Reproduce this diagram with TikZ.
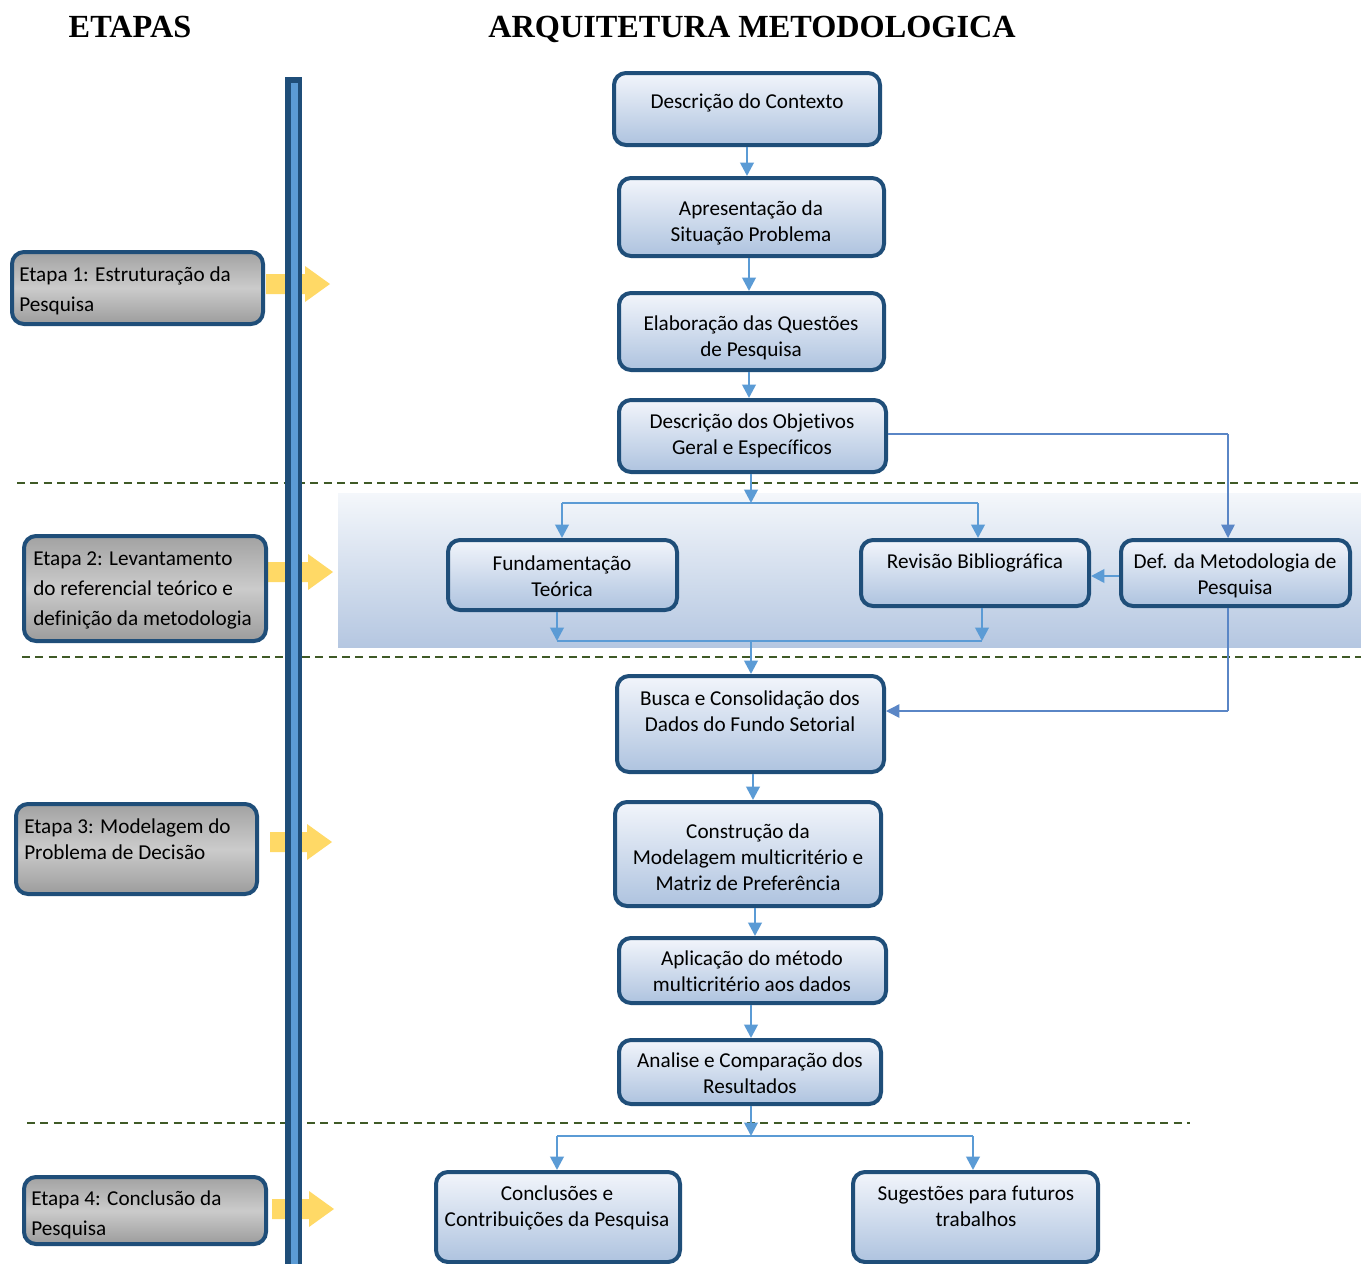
\documentclass[tikz,border=0pt]{standalone}
\usepackage{fontspec}
\setmainfont{Carlito}[Ligatures=NoCommon]
\newfontfamily\titlefont{Liberation Serif}
\usetikzlibrary{fit,arrows.meta}
\definecolor{dblue}{HTML}{1F4E79}
\definecolor{cblue}{HTML}{5B9BD5}
\definecolor{tblue}{HTML}{5A86C6}
\definecolor{barin}{HTML}{5B9BD5}
\definecolor{flowtop}{HTML}{F2F5FB}
\definecolor{flowbot}{HTML}{AEC3DF}
\definecolor{gtop}{HTML}{A2A2A2}
\definecolor{gmid}{HTML}{CBCBCB}
\definecolor{gbot}{HTML}{9C9C9C}
\definecolor{bandtop}{HTML}{F4F7FB}
\definecolor{bandbot}{HTML}{B5C7E1}
\definecolor{dgreen}{HTML}{3F5A26}
\definecolor{yarrow}{HTML}{FFD966}
\tikzset{
  flow/.style={draw=dblue, line width=3pt, rounded corners=9pt, top color=flowtop, bottom color=flowbot, inner sep=0pt},
  stage/.style={draw=dblue, line width=3pt, rounded corners=9pt, top color=gtop, bottom color=gbot, middle color=gmid, inner sep=0pt},
  ftxt/.style={font=\fontsize{15.9}{19.5}\selectfont, align=center, anchor=base, inner sep=0pt},
  stxt/.style={font=\fontsize{15.9}{22.5}\selectfont, align=left, anchor=base west, inner sep=0pt},
  conn/.style={draw=cblue, line width=2pt, -{Triangle[width=10pt,length=10pt]}},
  cline/.style={draw=cblue, line width=2pt},
  thinconn/.style={draw=tblue, line width=1.1pt, -{Triangle[width=10pt,length=10pt]}},
  thinline/.style={draw=tblue, line width=1.1pt},
  sepline/.style={draw=dgreen, line width=1.2pt, dash pattern=on 6pt off 4pt},
  ttl/.style={font=\titlefont\bfseries\fontsize{24.2}{27}\selectfont, anchor=base, inner sep=0pt}
}
\begin{document}
\begin{tikzpicture}[x=0.75pt,y=-0.75pt]
\useasboundingbox (0,0) rectangle (1361,1264);
\fill[white] (0,0) rectangle (1361,1264);

% titles
\node[ttl] (tEtapas) at (130,37) {ETAPAS};
\node[ttl] (tArq) at (752,37) {ARQUITETURA METODOLOGICA};

% band
\shade[top color=bandtop, bottom color=bandbot] (338,493) rectangle (1361,647);

% separators
\draw[sepline] (17,483) -- (1361,483);
\draw[sepline] (22,657) -- (1361,657);
\draw[sepline] (27,1123) -- (1190,1123);

% yellow stage arrows
\foreach \xa/\xb/\yc in {266/330/284, 268/333/572, 270/332/842, 272/334/1209}{
  \fill[yarrow] (\xa,\yc-10) -- (\xb-25,\yc-10) -- (\xb-25,\yc-18) -- (\xb,\yc) -- (\xb-25,\yc+18) -- (\xb-25,\yc+10) -- (\xa,\yc+10) -- cycle;
}

% vertical bar
\fill[dblue] (285,77) rectangle (302,1264);
\fill[barin] (290.5,83) rectangle (297.5,1264);

% stage boxes
\node[stage, fit={(12,252) (263,324)}] (e1) {};
\node[stxt] (e1t) at (19,311) {Etapa 1: Estruturação da\\Pesquisa};
\node[stage, fit={(24,536) (266,641)}] (e2) {};
\node[stxt] (e2t) at (33,625) {Etapa 2: Levantamento\\do referencial teórico e\\definição da metodologia};
\node[stage, fit={(16,804) (257,894)}] (e3) {};
\node[stxt, font=\fontsize{15.9}{19.5}\selectfont] (e3t) at (24,859) {Etapa 3: Modelagem do\\Problema de Decisão};
\node[stage, fit={(24,1177) (266,1244)}] (e4) {};
\node[stxt] (e4t) at (31,1235) {Etapa 4: Conclusão da\\Pesquisa};

% flow boxes
\node[flow, fit={(614,73) (880,145)}] (n1) {};
\node[ftxt] (n1t) at (747,108) {Descrição do Contexto};
\node[flow, fit={(619,178) (884,256)}] (n2) {};
\node[ftxt] (n2t) at (751,241) {Apresentação da\\Situação Problema};
\node[flow, fit={(619,293) (884,370)}] (n3) {};
\node[ftxt] (n3t) at (751,356) {Elaboração das Questões\\de Pesquisa};
\node[flow, fit={(619,400) (886,472)}] (n4) {};
\node[ftxt] (n4t) at (752,454) {Descrição dos Objetivos\\Geral e Específicos};
\node[flow, fit={(448,540) (677,610)}] (fund) {};
\node[ftxt] (fundt) at (562,596) {Fundamentação\\Teórica};
\node[flow, fit={(861,540) (1089,606)}] (rev) {};
\node[ftxt] (revt) at (975,568) {Revisão Bibliográfica};
\node[flow, fit={(1121,540) (1350,606)}] (def) {};
\node[ftxt] (deft) at (1235,594) {Def. da Metodologia de\\Pesquisa};
\node[flow, fit={(617,676) (884,772)}] (busca) {};
\node[ftxt] (buscat) at (750,731) {Busca e Consolidação dos\\Dados do Fundo Setorial};
\node[flow, fit={(615,802) (881,906)}] (constr) {};
\node[ftxt] (constrt) at (748,890) {Construção da\\Modelagem multicritério e\\Matriz de Preferência};
\node[flow, fit={(619,938) (886,1003)}] (aplic) {};
\node[ftxt] (aplict) at (752,991) {Aplicação do método\\multicritério aos dados};
\node[flow, fit={(619,1040) (881,1104)}] (anal) {};
\node[ftxt] (analt) at (750,1093) {Analise e Comparação dos\\Resultados};
\node[flow, fit={(436,1172) (680,1262)}] (conc) {};
\node[ftxt] (conct) at (557,1226) {Conclusões e\\Contribuições da Pesquisa};
\node[flow, fit={(853,1172) (1098,1262)}] (sug) {};
\node[ftxt] (sugt) at (976,1226) {Sugestões para futuros\\trabalhos};

% coordinates
\coordinate (a1) at (747,0);
\coordinate (a2) at (749,0);
\coordinate (a3) at (749,0);
\coordinate (j1) at (751,503);
\coordinate (j1L) at (562,503);
\coordinate (j1R) at (978,503);
\coordinate (j2) at (751,641);
\coordinate (j2L) at (557,641);
\coordinate (j2R) at (982,641);
\coordinate (c1) at (1228,434);
\coordinate (c2) at (1228,711);
\coordinate (a8) at (753,0);
\coordinate (a9) at (755,0);
\coordinate (a10) at (751,0);
\coordinate (j3) at (751,1136);
\coordinate (j3L) at (557,1136);
\coordinate (j3R) at (973,1136);

% connectors
\draw[conn] (n1.south -| a1) -- (n2.north -| a1);
\draw[conn] (n2.south -| a2) -- (n3.north -| a2);
\draw[conn] (n3.south -| a3) -- (n4.north -| a3);
\draw[thinline] (n4.east |- c1) -- (c1);
\draw[thinconn] (c1) -- (c1 |- def.north);
\draw[conn] (n4.south -| j1) -- (j1);
\draw[cline] (j1L) -- (j1R);
\draw[conn] (j1L) -- (fund.north -| j1L);
\draw[conn] (j1R) -- (rev.north -| j1R);
\draw[conn] (def.west |- 0,576) -- (rev.east |- 0,576);
\draw[conn] (fund.south -| j2L) -- (j2L);
\draw[conn] (rev.south -| j2R) -- (j2R);
\draw[cline] (j2L) -- (j2R);
\draw[conn] (j2) -- (busca.north -| j2);
\draw[thinline] (def.south -| c2) -- (c2);
\draw[thinconn] (c2) -- (busca.east |- c2);
\draw[conn] (busca.south -| a8) -- (constr.north -| a8);
\draw[conn] (constr.south -| a9) -- (aplic.north -| a9);
\draw[conn] (aplic.south -| a10) -- (anal.north -| a10);
\draw[conn] (anal.south -| j3) -- (j3);
\draw[cline] (j3L) -- (j3R);
\draw[conn] (j3L) -- (conc.north -| j3L);
\draw[conn] (j3R) -- (sug.north -| j3R);
\end{tikzpicture}
\end{document}
